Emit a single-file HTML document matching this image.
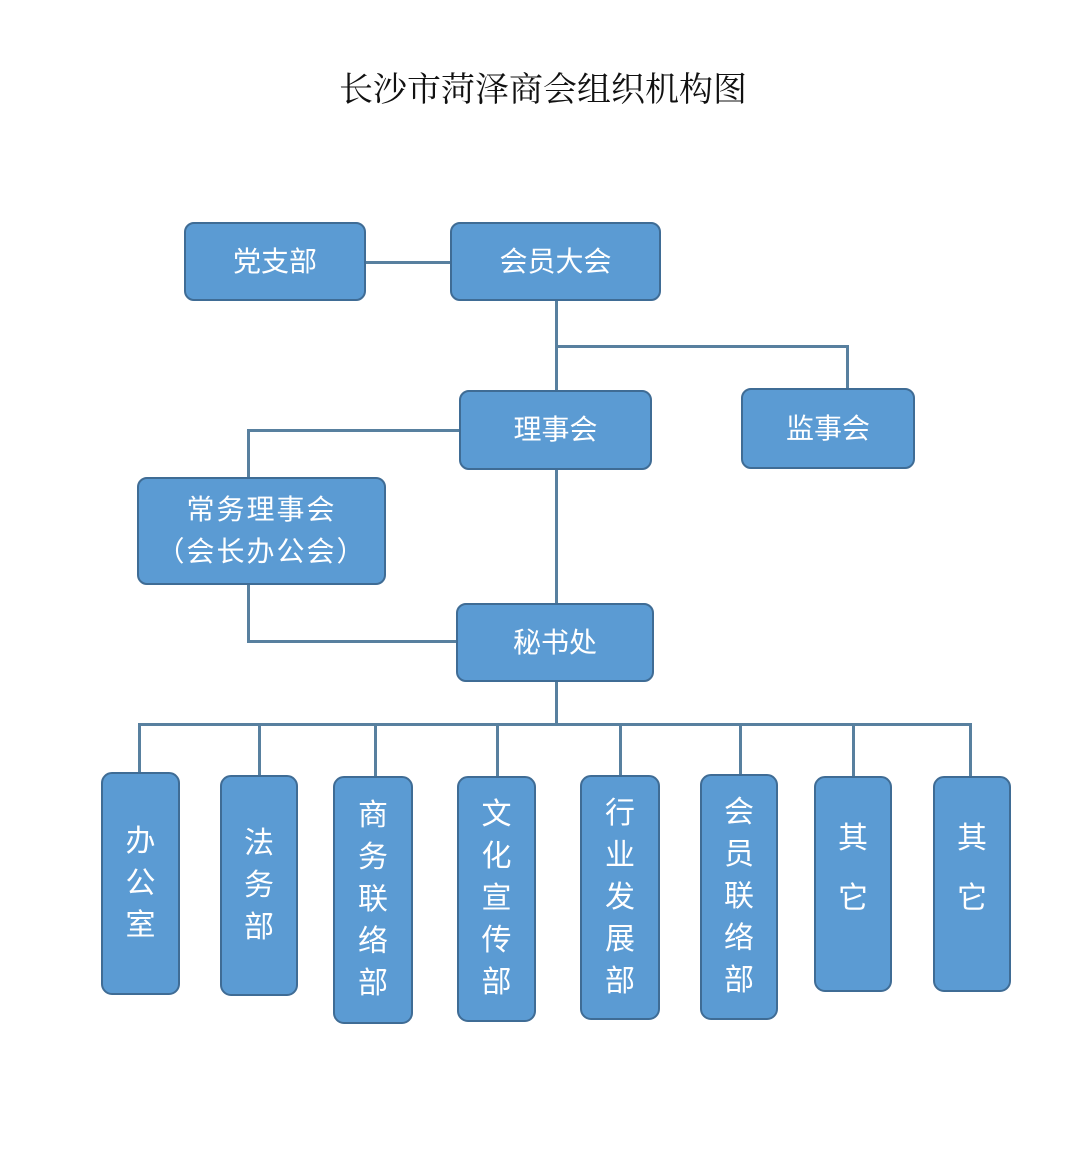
<!DOCTYPE html>
<html><head><meta charset="utf-8"><style>
body{margin:0;width:1080px;height:1174px;background:#fff;position:relative;overflow:hidden;font-family:"Liberation Sans","Noto Sans CJK SC",sans-serif}
.b{position:absolute;box-sizing:border-box;background:#5b9bd3;border:2px solid #3f6c95;border-radius:10px;color:#fff;display:flex;align-items:center;justify-content:center;text-align:center;font-size:28px;line-height:42px}
.v{flex-direction:column;font-size:30px;border-radius:11px}
.l{position:absolute;background:#58809f}
.h{height:3px}.w{width:3px}
h1{position:absolute;top:62px;left:0;width:1086px;text-align:center;margin:0;font-size:34px;font-weight:normal;color:#111;font-family:"Noto Serif CJK SC","Noto Sans CJK SC",serif}
</style></head><body>
<h1>长沙市菏泽商会组织机构图</h1>
<div class="l h" style="left:365px;top:261px;width:86px"></div>
<div class="l w" style="left:555px;top:300px;height:90px"></div>
<div class="l h" style="left:555px;top:345px;width:294px"></div>
<div class="l w" style="left:846px;top:345px;height:44px"></div>
<div class="l h" style="left:247px;top:429px;width:213px"></div>
<div class="l w" style="left:247px;top:429px;height:49px"></div>
<div class="l w" style="left:555px;top:469px;height:135px"></div>
<div class="l w" style="left:247px;top:584px;height:58px"></div>
<div class="l h" style="left:247px;top:640px;width:210px"></div>
<div class="l w" style="left:555px;top:681px;height:44px"></div>
<div class="l h" style="left:138px;top:723px;width:834px"></div>
<div class="l w" style="left:138px;top:723px;height:50px"></div>
<div class="l w" style="left:258px;top:723px;height:53px"></div>
<div class="l w" style="left:374px;top:723px;height:54px"></div>
<div class="l w" style="left:496px;top:723px;height:54px"></div>
<div class="l w" style="left:619px;top:723px;height:53px"></div>
<div class="l w" style="left:739px;top:723px;height:52px"></div>
<div class="l w" style="left:852px;top:723px;height:54px"></div>
<div class="l w" style="left:969px;top:723px;height:54px"></div>

<div class="b" style="left:184px;top:222px;width:182px;height:79px">党支部</div>
<div class="b" style="left:450px;top:222px;width:211px;height:79px">会员大会</div>
<div class="b" style="left:741px;top:388px;width:174px;height:81px">监事会</div>
<div class="b" style="left:459px;top:390px;width:193px;height:80px">理事会</div>
<div class="b" style="left:137px;top:477px;width:249px;height:108px;letter-spacing:2px">常务理事会<br>（会长办公会）</div>
<div class="b" style="left:456px;top:603px;width:198px;height:79px">秘书处</div>

<div class="b v" style="left:101px;top:772px;width:79px;height:223px">办<br>公<br>室</div>
<div class="b v" style="left:220px;top:775px;width:78px;height:221px">法<br>务<br>部</div>
<div class="b v" style="left:333px;top:776px;width:80px;height:248px">商<br>务<br>联<br>络<br>部</div>
<div class="b v" style="left:457px;top:776px;width:79px;height:246px">文<br>化<br>宣<br>传<br>部</div>
<div class="b v" style="left:580px;top:775px;width:80px;height:245px">行<br>业<br>发<br>展<br>部</div>
<div class="b v" style="left:700px;top:774px;width:78px;height:246px">会<br>员<br>联<br>络<br>部</div>
<div class="b v" style="left:814px;top:776px;width:78px;height:216px;line-height:60px;padding-bottom:30px">其<br>它</div>
<div class="b v" style="left:933px;top:776px;width:78px;height:216px;line-height:60px;padding-bottom:30px">其<br>它</div>
</body></html>
